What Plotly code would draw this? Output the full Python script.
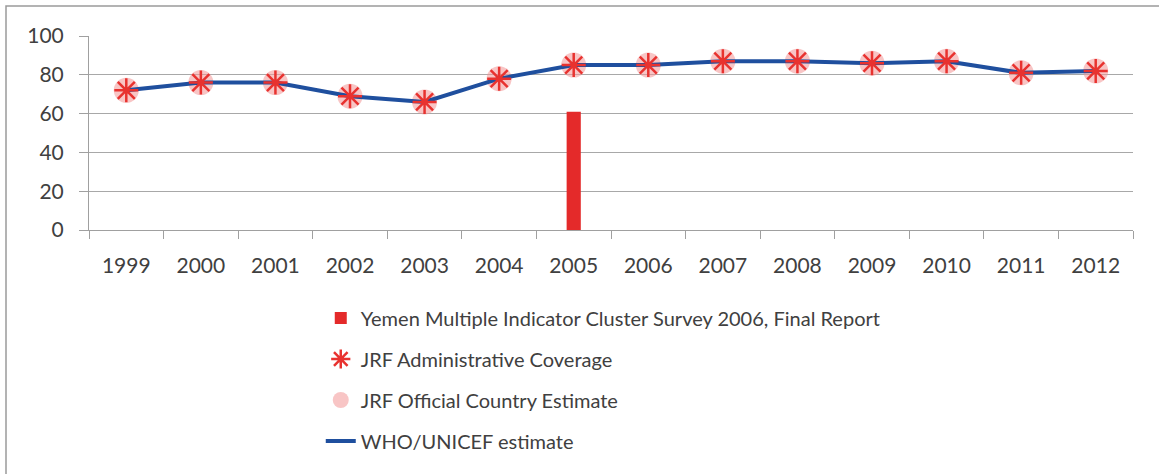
import plotly.graph_objects as go

years = ["1999", "2000", "2001", "2002", "2003", "2004", "2005",
         "2006", "2007", "2008", "2009", "2010", "2011", "2012"]
who_unicef = [72, 76, 76, 69, 66, 78, 85, 85, 87, 87, 86, 87, 81, 82]
jrf_admin = [72, 76, 76, 69, 66, 78, 85, 85, 87, 87, 86, 87, 81, 82]
jrf_official = [72, 76, 76, 69, 66, 78, 85, 85, 87, 87, 86, 87, 81, 82]
survey_years = ["2005"]
survey_values = [61]

FONT = "Lato, 'Open Sans', sans-serif"
TXT = "#404040"

fig = go.Figure()
fig.add_trace(go.Bar(
    x=survey_years, y=survey_values, width=0.19,
    marker=dict(color="#e42a2a", line=dict(width=0)),
    name="Yemen Multiple Indicator Cluster Survey 2006, Final Report",
    legendrank=1, legendgroup="a",
))
fig.add_trace(go.Scatter(
    x=years, y=jrf_official, mode="markers",
    marker=dict(symbol="circle", size=25, color="rgba(242,150,150,0.55)"),
    name="JRF Official Country Estimate", legendrank=3, legendgroup="c",
))
fig.add_trace(go.Scatter(
    x=years, y=who_unicef, mode="lines",
    line=dict(color="#1f4f9e", width=4),
    name="WHO/UNICEF estimate", legendrank=4, legendgroup="d",
))
fig.add_trace(go.Scatter(
    x=years, y=jrf_admin, mode="markers",
    marker=dict(symbol="asterisk-open", size=20, color="#e8322f",
                line=dict(color="#e8322f", width=2.5)),
    name="JRF Administrative Coverage", legendrank=2, legendgroup="b",
))

fig.update_layout(
    width=1159, height=474,
    margin=dict(l=89, r=26, t=36, b=244),
    paper_bgcolor="white", plot_bgcolor="white",
    font=dict(family=FONT, color=TXT),
    showlegend=True,
    legend=dict(
        x=0.222, y=-0.353, xanchor="left", yanchor="top",
        orientation="v", traceorder="grouped", tracegroupgap=12,
        font=dict(size=20, family=FONT, color=TXT),
        bgcolor="rgba(0,0,0,0)", itemwidth=30,
    ),
    shapes=[dict(type="rect", xref="paper", yref="paper",
                 x0=-83 / 1044, x1=1.3, y0=-1.5, y1=1 + 30 / 194,
                 line=dict(color="#9a9a9a", width=1.5), layer="below")],
)
fig.update_xaxes(
    type="category", categoryorder="array", categoryarray=years,
    range=[-0.5, 13.5], automargin=False,
    tickson="boundaries", ticks="outside", ticklen=8,
    tickcolor="#a0a0a0", showline=True, linecolor="#a0a0a0", linewidth=1,
    showgrid=False, tickfont=dict(size=21, family=FONT, color=TXT),
    ticklabelstandoff=17,
)
fig.update_yaxes(
    range=[0, 100], tickvals=[0, 20, 40, 60, 80, 100], automargin=False,
    ticks="outside", ticklen=9, tickcolor="#a0a0a0",
    showline=True, linecolor="#a0a0a0", linewidth=1,
    showgrid=True, gridcolor="#a8a8a8", gridwidth=1,
    zeroline=False, tickfont=dict(size=21, family=FONT, color=TXT),
    ticklabelstandoff=11,
)

fig.write_html("out.html")
